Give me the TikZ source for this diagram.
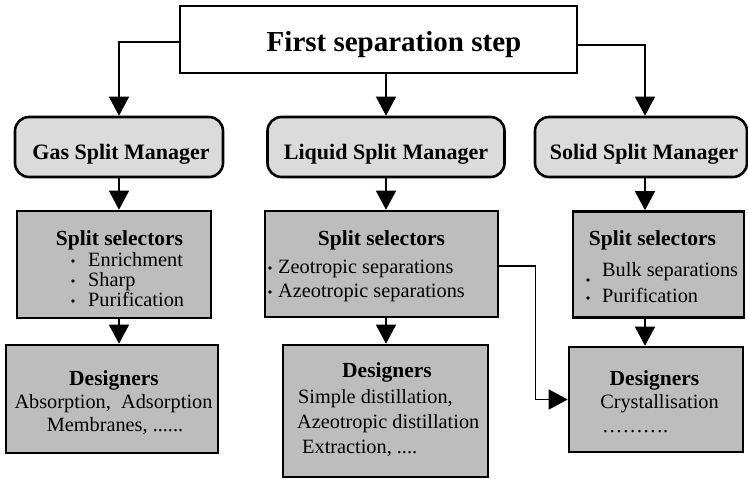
\documentclass[tikz,border=0pt]{standalone}
\usepackage{fontspec}
\setmainfont{Liberation Serif}
\usetikzlibrary{arrows.meta}
\definecolor{mgrfill}{gray}{0.86}
\definecolor{boxfill}{gray}{0.74}

\begin{document}
\begin{tikzpicture}[x=1pt,y=-1pt,
  frame/.style={draw=black, line width=2.6pt, inner sep=0pt},
  topbox/.style={frame, fill=white, minimum width=397pt, minimum height=67pt},
  mgr/.style={frame, fill=mgrfill, rounded corners=14pt, minimum height=60pt},
  panel/.style={frame, fill=boxfill},
  conn/.style={draw=black, line width=1.3pt, -{Triangle[length=19pt 0 0,width=20pt 0 0]}},
  title/.style={anchor=base, inner sep=0pt, font=\fontsize{29}{34}\selectfont\bfseries},
  mgrtext/.style={anchor=base, inner sep=0pt, font=\fontsize{22}{26}\selectfont\bfseries},
  head/.style={anchor=base, inner sep=0pt, font=\fontsize{21.5}{26}\selectfont\bfseries},
  item/.style={anchor=base west, inner sep=0pt, font=\fontsize{20.3}{24}\selectfont},
  citem/.style={anchor=base, inner sep=0pt, font=\fontsize{20.3}{24}\selectfont},
  dot/.style={circle, fill=black, inner sep=0pt, minimum size=3.6pt},
]
\useasboundingbox (0,0) rectangle (748,479);

% top level
\node[topbox] (top) at (378.5,39.5) {};
\node[title] (topt) at (394,52) {First separation step};

% split managers
\node[mgr, minimum width=208pt] (gasM) at (119,147) {};
\node[mgr, minimum width=237pt] (liqM) at (386,147) {};
\node[mgr, minimum width=212pt] (solM) at (641,147) {};
\node[mgrtext] (gasMt) at (121,159) {Gas Split Manager};
\node[mgrtext] (liqMt) at (386,159) {Liquid Split Manager};
\node[mgrtext] (solMt) at (644,159) {Solid Split Manager};

% the solid column runs slightly right of the manager's centre
\coordinate (solX) at (645,147);

% split selectors
\node[panel, minimum width=194pt, minimum height=107pt] (gasS) at (114,264.5) {};
\node[panel, minimum width=233pt, minimum height=106pt] (liqS) at (381.5,264) {};
\node[panel, minimum width=171pt, minimum height=106pt] (solS) at (658.5,264.5) {};

\node[head] (gasSh) at (119.5,245) {Split selectors};
\node[dot] (gd1) at (73,261) {};
\node[dot] (gd2) at (73,281) {};
\node[dot] (gd3) at (73,301) {};
\node[item] (gs1) at (88,266) {Enrichment};
\node[item] (gs2) at (88,286) {Sharp};
\node[item] (gs3) at (88,306) {Purification};

\node[head] (liqSh) at (381.5,245) {Split selectors};
\node[dot] (ld1) at (270,268) {};
\node[dot] (ld2) at (270,292) {};
\node[item] (ls1) at (278,273) {Zeotropic separations};
\node[item] (ls2) at (278,297) {Azeotropic separations};

\node[head] (solSh) at (652.5,245) {Split selectors};
\node[dot] (sd1) at (588,280) {};
\node[dot] (sd2) at (588,298) {};
\node[item] (ss1) at (602,276) {Bulk separations};
\node[item] (ss2) at (602,302) {Purification};

% designers
\node[panel, minimum width=212pt, minimum height=108pt] (gasD) at (112,399) {};
\node[panel, minimum width=205pt, minimum height=132pt] (liqD) at (385.5,411) {};
\node[panel, minimum width=174pt, minimum height=105pt] (solD) at (656,399.5) {};

\node[head] (gasDh) at (114,385) {Designers};
\node[citem] (gdl1) at (113.5,408) {Absorption,\ \ Adsorption};
\node[citem] (gdl2) at (115,431) {Membranes, ......};

\node[head] (liqDh) at (387,377) {Designers};
\node[item] (ldl1) at (298,403) {Simple distillation,};
\node[item] (ldl2) at (297,428) {Azeotropic distillation};
\node[item] (ldl3) at (302,453) {Extraction, ....};

\node[head] (solDh) at (654.5,385) {Designers};
\node[citem] (sdl1) at (659.5,408) {Crystallisation};
\node[item] (sdl2) at (602,432) {……….};

% connectors
\draw[conn] ([yshift=-2.5pt]top.west) -| (gasM.north);
\draw[conn] (top.south -| liqM.north) -- (liqM.north);
\draw[conn] ([yshift=-5.5pt]top.east) -| (solX |- solM.north);

\draw[conn] (gasM.south) -- (gasM.south |- gasS.north);
\draw[conn] (liqM.south) -- (liqM.south |- liqS.north);
\draw[conn] (solX |- solM.south) -- (solX |- solS.north);

\draw[conn] (gasS.south -| gasM.south) -- (gasM.south |- gasD.north);
\draw[conn] (liqS.south -| liqM.south) -- (liqM.south |- liqD.north);
\draw[conn] (solX |- solS.south) -- (solX |- solD.north);

\draw[conn] ([yshift=-2pt]liqS.east) -- ++(36,0) |- (solD.west);
\end{tikzpicture}
\end{document}
